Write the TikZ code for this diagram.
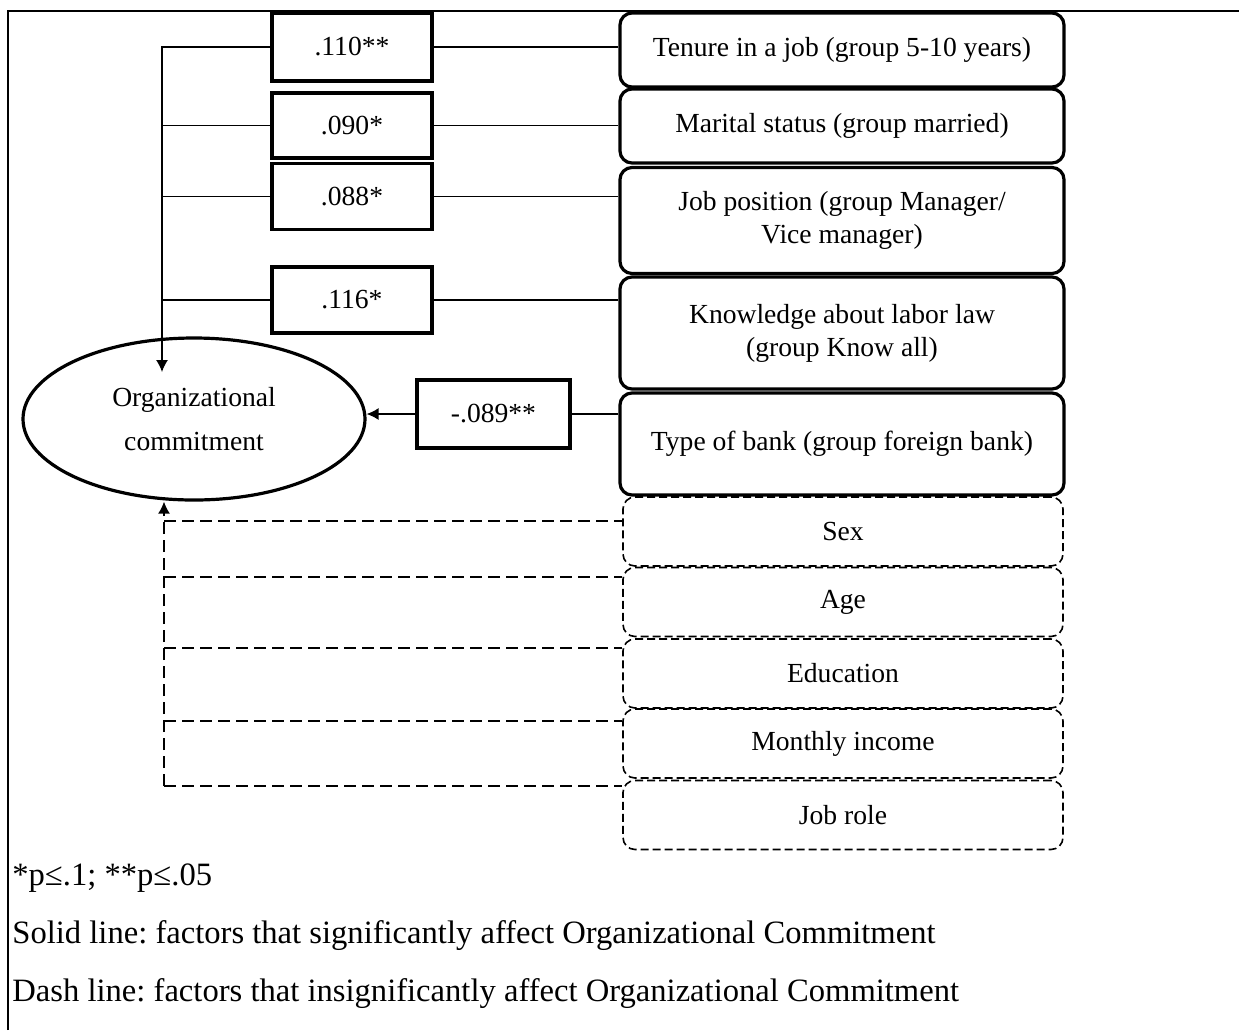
\documentclass[tikz,border=0pt]{standalone}
\usepackage{fontspec}
\setmainfont{Liberation Serif}
\usepackage{tikz}
\usetikzlibrary{shapes.geometric,arrows.meta}
\frenchspacing

\begin{document}
\begin{tikzpicture}[x=0.5pt,y=-0.5pt,
  font=\fontsize{13.8}{16.5}\selectfont,
  coef/.style={draw,line width=1.6pt,minimum width=80pt,minimum height=33pt,inner sep=0pt},
  sig/.style={draw,rounded corners=6pt,line width=1.6pt,minimum width=222pt,align=center,inner sep=0pt},
  nsig/.style={draw,rounded corners=6pt,line width=0.8pt,dash pattern=on 4pt off 2pt,minimum width=220pt,minimum height=34.5pt,inner sep=0pt},
  note/.style={anchor=west,inner sep=0pt,font=\fontsize{16.3}{19}\selectfont},
  conn/.style={line width=0.7pt},
  dconn/.style={line width=0.8pt,dash pattern=on 6pt off 3pt},
  tip/.style={-{Latex[length=6pt,width=6pt]}}]
\useasboundingbox (0,0) rectangle (1239,1030);

% Cadre
\draw[line width=0.8pt] (8,1030) -- (8,11) -- (1239,11);

% Engagement organisationnel
\node[ellipse,draw,line width=1.6pt,minimum width=171pt,minimum height=81pt,inner sep=0pt,align=center]
  (oc) at (194,419) {Organizational\\[5.5pt]commitment};

% Facteurs significatifs
\node[sig,minimum height=37pt] (f1) at (842,50) {Tenure in a job (group 5-10 years)};
\node[sig,minimum height=37pt] (f2) at (842,126) {Marital status (group married)};
\node[sig,minimum height=53pt] (f3) at (842,220.5) {Job position (group Manager/\\Vice manager)};
\node[sig,minimum height=56pt] (f4) at (842,333) {Knowledge about labor law\\(group Know all)};
\node[sig,minimum height=51pt] (f5) at (842,444) {Type of bank (group foreign bank)};

% Coefficients
\node[coef,minimum height=34pt] (v1) at (352,47) {.110**};
\node[coef,minimum height=32.5pt] (v2) at (352,125.5) {.090*};
\node[coef] (v3) at (352,196.5) {.088*};
\node[coef] (v4) at (352,300) {.116*};
\node[coef,minimum width=76.5pt,minimum height=34pt] (v5) at (493.5,414) {-.089**};

% Liens significatifs
\coordinate (bustop) at (162,47);
\coordinate (bustip) at (162,372);
\draw[conn,tip] (v1.west) -- (bustop) -- (bustip);
\draw[conn] (v2.west) -- (v2.west -| bustop);
\draw[conn] (v3.west) -- (v3.west -| bustop);
\draw[conn] (v4.west) -- (v4.west -| bustop);
\draw[conn] (v1.east) -- (v1.east -| f1.west);
\draw[conn] (v2.east) -- (v2.east -| f2.west);
\draw[conn] (v3.east) -- (v3.east -| f3.west);
\draw[conn] (v4.east) -- (v4.east -| f4.west);
\draw[conn] (v5.east) -- (v5.east -| f5.west);
\draw[conn,tip] (v5.west) -- (v5.west -| oc.east);

% Facteurs non significatifs
\node[nsig] (d1) at (843,531.5) {Sex};
\node[nsig] (d2) at (843,602) {Age};
\node[nsig] (d3) at (843,673.5) {Education};
\node[nsig] (d4) at (843,743.5) {Monthly income};
\node[nsig] (d5) at (843,815) {Job role};

% Liens non significatifs
\coordinate (e1) at (164,521);
\coordinate (e2) at (164,577);
\coordinate (e3) at (164,648);
\coordinate (e4) at (164,721);
\coordinate (e5) at (164,786);
\draw[dconn,tip] (e5) -- (e1) -- (e1 |- oc.south);
\draw[dconn] (e1) -- (e1 -| d1.west);
\draw[dconn] (e2) -- (e2 -| d2.west);
\draw[dconn] (e3) -- (e3 -| d3.west);
\draw[dconn] (e4) -- (e4 -| d4.west);
\draw[dconn] (e5) -- (e5 -| d5.west);

% Notes
\node[note] (n1) at (12,878) {*p≤.1; **p≤.05};
\node[note] (n2) at (12,936) {Solid line: factors that significantly affect Organizational Commitment};
\node[note] (n3) at (12,994) {Dash line: factors that insignificantly affect Organizational Commitment};
\end{tikzpicture}
\end{document}
